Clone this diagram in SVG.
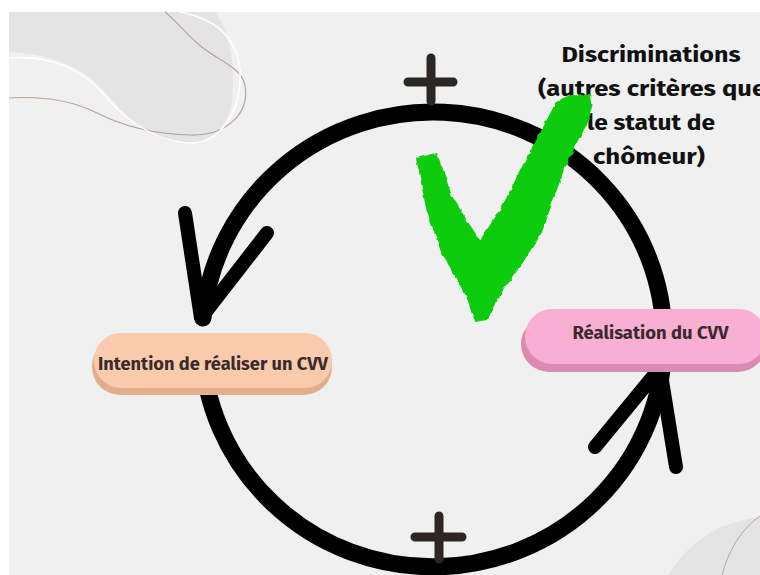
<svg xmlns="http://www.w3.org/2000/svg" width="760" height="575" viewBox="0 0 760 575">
<defs>
<style>
.ring{fill:none;stroke:#000;stroke-width:17;stroke-linecap:round}
.wing{fill:none;stroke:#000;stroke-width:14;stroke-linecap:round;stroke-linejoin:round}
.plus{fill:none;stroke:#2e2525;stroke-width:9;stroke-linecap:round}
.lbl{font-family:"Fira Sans","Noto Sans","Open Sans",sans-serif;font-weight:700;fill:#3a2a2d;text-anchor:middle}
.note{font-family:"Fira Sans","Noto Sans","Open Sans",sans-serif;font-weight:700;fill:#111;text-anchor:middle;font-size:21px}
</style>
<filter id="rough" x="-10%" y="-10%" width="120%" height="120%">
<feTurbulence type="fractalNoise" baseFrequency="0.12" numOctaves="2" seed="3" result="n"/>
<feDisplacementMap in="SourceGraphic" in2="n" scale="4" xChannelSelector="R" yChannelSelector="G"/>
</filter>
</defs>
<rect x="0" y="0" width="760" height="575" fill="#ffffff"/>
<rect x="9" y="12" width="751" height="563" fill="#f0f0f0"/>
<g id="decor">
<path d="M9,12 H215 C228,28 236,60 232,100 C228,128 210,145 187,144 C160,142 135,128 115,103 C95,78 70,55 9,52 Z" fill="#e4e4e4"/>
<path d="M9,98 C40,96 70,100 95,112 C120,125 150,134 190,135 C225,136 250,115 245,85 C240,65 215,60 197,43 C185,32 175,20 165,12" fill="none" stroke="#b5a59d" stroke-width="1.2"/>
<path d="M9,58 C50,55 80,70 100,90 C120,115 150,140 187,143 C215,145 238,120 240,80 C242,50 225,28 205,20 C195,15 185,13 180,12" fill="none" stroke="#ffffff" stroke-width="1.5"/>
<path d="M668,575 C690,540 720,522 760,517 V575 Z" fill="#e4e4e4"/>
<path d="M722,575 C728,552 740,530 760,516" fill="none" stroke="#b5a59d" stroke-width="1"/>
</g>
<g id="connectors">
<path class="ring" d="M202.06,345 A231 227 0 0 0 664,340 A231 227 0 0 0 203,318"/>
<polyline class="wing" points="185,213 201,318 267,233"/>
<polyline class="wing" points="595,447 660,368 676,467"/>
</g>
<g id="plus-top"><path class="plus" d="M431,58 V101 M408,82 H453"/></g>
<g id="plus-bottom"><path class="plus" d="M439,516 V559 M415,537 H462"/></g>
<g id="node-intention">
<rect x="92" y="338" width="240" height="57" rx="28" fill="#e2ad8d"/>
<rect x="94" y="333" width="238" height="55" rx="27" fill="#f9caab"/>
<text class="lbl" x="213" y="370" font-size="18" textLength="230" lengthAdjust="spacingAndGlyphs">Intention de réaliser un CVV</text>
</g>
<g id="node-realisation">
<rect x="521" y="316" width="245" height="56" rx="28" fill="#db8bb1"/>
<rect x="525" y="309" width="241" height="55" rx="27" fill="#f9aed4"/>
<text class="lbl" x="650.5" y="339" font-size="18.5" textLength="156" lengthAdjust="spacingAndGlyphs">Réalisation du CVV</text>
</g>
<g id="note-discriminations">
<text class="note" x="651" y="62" textLength="179" lengthAdjust="spacingAndGlyphs">Discriminations</text>
<text class="note" x="652" y="96" textLength="228" lengthAdjust="spacingAndGlyphs">(autres critères que</text>
<text class="note" x="651" y="130" textLength="128" lengthAdjust="spacingAndGlyphs">le statut de</text>
<text class="note" x="649" y="164" textLength="112" lengthAdjust="spacingAndGlyphs">chômeur)</text>
</g>
<g id="checkmark">
<polygon filter="url(#rough)" fill="#0acb0a" points="416,158 437,153 452,196 468,222 480,240 500,210 524,163 538,137 555,104 570,94 590,95 592,110 587,124 570,157 564,170 542,232 522,264 502,292 487,320 475,322 466,295 441,252 426,208"/>
</g>
</svg>
